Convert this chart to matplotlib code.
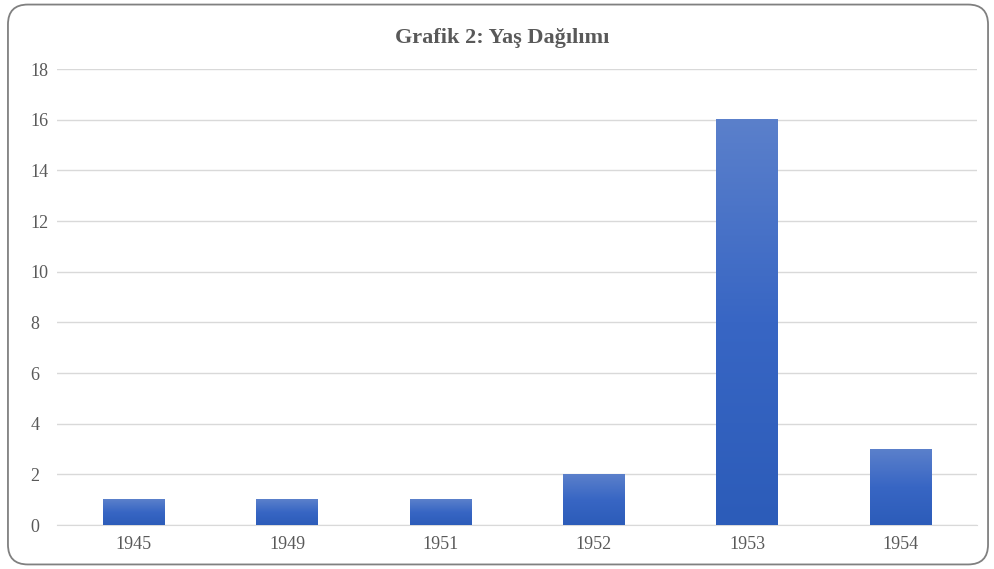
import matplotlib
matplotlib.use("Agg")
import matplotlib.pyplot as plt
import numpy as np
from matplotlib.patches import FancyBboxPatch
from matplotlib.colors import LinearSegmentedColormap

years = ["1945", "1949", "1951", "1952", "1953", "1954"]
counts = [1, 1, 1, 2, 16, 3]
y_ticks = [0, 2, 4, 6, 8, 10, 12, 14, 16, 18]

plt.rcParams["font.family"] = ["Liberation Serif", "DejaVu Serif"]
text_color = "#595959"

fig = plt.figure(figsize=(9.95, 5.69), dpi=100)
ax = fig.add_axes([0.0573, 0.0773, 0.9247, 0.8014])

# rounded frame around the chart
frame = FancyBboxPatch((0.008, 0.008), 0.985, 0.984,
                       boxstyle="round,pad=0,rounding_size=0.02",
                       transform=fig.transFigure, fill=False,
                       edgecolor="#808080", linewidth=1.3, mutation_aspect=995 / 569)
fig.patches.append(frame)

x = np.arange(len(years))
width = 0.40
bars = ax.bar(x, counts, width=width, color="none", zorder=3)

cmap = LinearSegmentedColormap.from_list("blu", ["#2c5cb9", "#3866c4", "#5b80cb"])
grad = np.linspace(0, 1, 256).reshape(-1, 1)
for b in bars:
    x0, y0 = b.get_x(), b.get_y()
    w, h = b.get_width(), b.get_height()
    ax.imshow(grad, cmap=cmap, aspect="auto", origin="lower",
              extent=[x0, x0 + w, y0, y0 + h], zorder=3)

ax.set_xlim(-0.5, len(years) - 0.5)
ax.set_ylim(0, 18)
ax.set_yticks(y_ticks)
ax.set_xticks(x)
ax.set_xticklabels(years)
ax.yaxis.grid(True, color="#d9d9d9", linewidth=1.0, zorder=0)
ax.set_axisbelow(True)
for s in ["top", "right", "left"]:
    ax.spines[s].set_visible(False)
ax.spines["bottom"].set_color("#d9d9d9")
ax.tick_params(axis="both", length=0, labelsize=13, colors=text_color)
ax.tick_params(axis="y", pad=19)
ax.tick_params(axis="x", pad=8)
for lbl in ax.get_yticklabels():
    lbl.set_horizontalalignment("left")

fig.text(0.505, 0.934, "Grafik 2: Yaş Dağılımı", ha="center", va="center",
         fontsize=16, fontweight="bold", color=text_color)

fig.savefig("out.png", dpi=100)
